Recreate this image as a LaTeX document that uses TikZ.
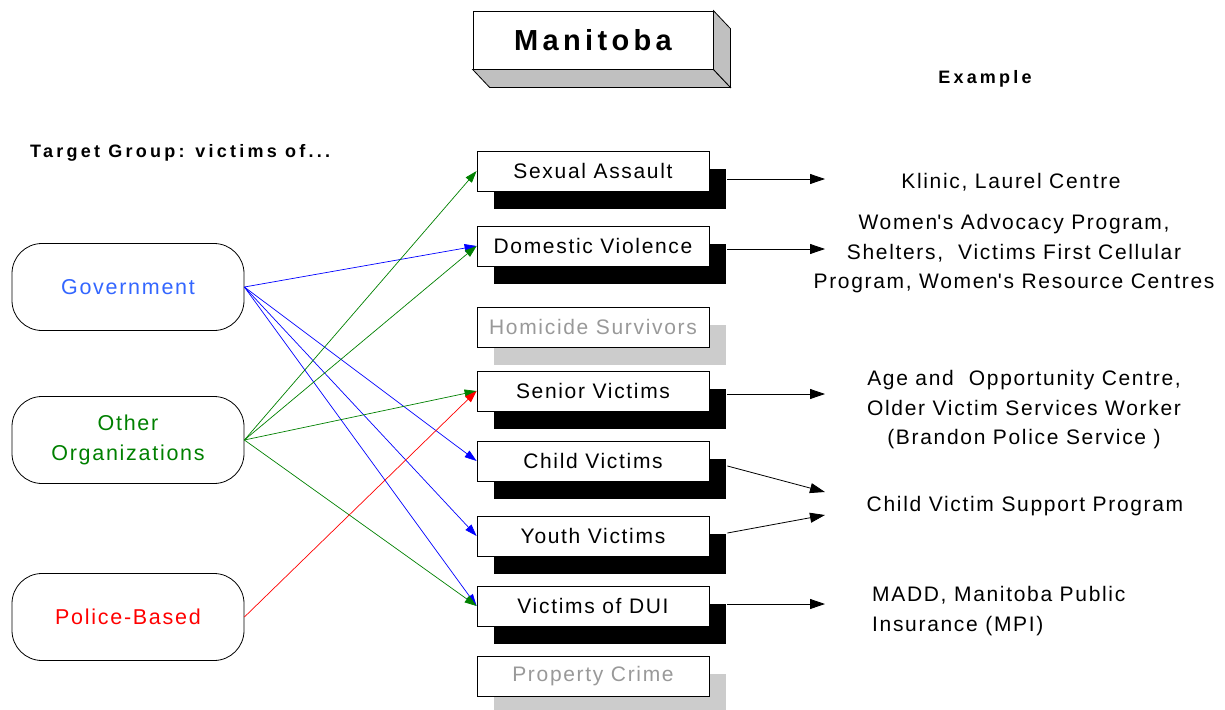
\documentclass[tikz,border=0pt]{standalone}
\usepackage{fontspec}
\setmainfont{Liberation Sans}[LetterSpace=8]
\newfontfamily\headfont{Liberation Sans}[LetterSpace=18]
\newfontfamily\titlefont{Liberation Sans}[LetterSpace=15]
\usetikzlibrary{arrows.meta,shadows,calc}
\definecolor{govblue}{RGB}{51,102,255}
\definecolor{orggreen}{RGB}{0,128,0}
\definecolor{shadegray}{RGB}{204,204,204}
\definecolor{facegray}{RGB}{192,192,192}
\definecolor{fadetext}{RGB}{153,153,153}
% straight apostrophe, taken by glyph name so no text mapping curls it
\newcommand{\apos}{\XeTeXglyph\XeTeXglyphindex "quotesingle"\relax\kern1.7pt}
\tikzset{
  catbox/.style={draw, line width=0.8pt, fill=white, minimum width=232pt,
    minimum height=40pt, inner sep=0pt, font=\fontsize{21}{24}\selectfont},
  solidshadow/.style={drop shadow={shadow xshift=17pt, shadow yshift=-18pt,
    fill=black, opacity=1}},
  paleshadow/.style={drop shadow={shadow xshift=17pt, shadow yshift=-18pt,
    fill=shadegray, opacity=1}, text=fadetext},
  grpbox/.style={draw, line width=0.8pt, rounded corners=30pt, minimum width=232pt,
    minimum height=87pt, align=center, font=\fontsize{21.5}{30}\selectfont},
  link/.style={line width=0.7pt, -{Triangle[length=12pt,width=8pt]}},
  exarrow/.style={line width=0.8pt, -{Triangle[length=15pt,width=10pt]}},
  extext/.style={align=center, inner sep=0pt, font=\fontsize{21}{29.5}\selectfont},
  headtext/.style={inner sep=0pt, font=\headfont\fontsize{18}{20}\selectfont\bfseries},
}
\begin{document}
\begin{tikzpicture}[x=1pt,y=-1pt]
\useasboundingbox (0,0) rectangle (1225,709);

% title block with raised faces
\node[draw, line width=0.8pt, fill=white, minimum width=240pt, minimum height=58pt,
  inner sep=0pt, font=\titlefont\fontsize{29}{34}\selectfont\bfseries] (title) at (593,40) {Manitoba};
\filldraw[fill=facegray, line width=0.8pt] (title.south west) -- ($(title.south west)+(17,18)$)
  -- ($(title.south east)+(17,18)$) -- (title.south east) -- cycle;
\filldraw[fill=facegray, line width=0.8pt] (title.north east) -- ($(title.north east)+(17,18)$)
  -- ($(title.south east)+(17,18)$) -- (title.south east) -- cycle;

% headings
\node[headtext, anchor=west] (tg) at (30,153) {Target Group: victims of...};
\node[headtext] (ex) at (985,79) {Example};

% victim categories
\node[catbox, solidshadow] (sa) at (593,171) {Sexual Assault};
\node[catbox, solidshadow] (dv) at (593,246) {Domestic Violence};
\node[catbox, paleshadow] (hs) at (593,327) {Homicide Survivors};
\node[catbox, solidshadow] (sv) at (593,391) {Senior Victims};
\node[catbox, solidshadow] (cv) at (593,461) {Child Victims};
\node[catbox, solidshadow] (yv) at (593,536) {Youth Victims};
\node[catbox, solidshadow] (dui) at (593,606) {Victims of DUI};
\node[catbox, paleshadow] (pc) at (593,676) {Property Crime};

% service providers
\node[grpbox, text=govblue] (gov) at (128,287) {Government};
\node[grpbox, text=orggreen] (org) at (128,440) {Other\\Organizations};
\node[grpbox, text=red] (pol) at (128,617) {Police-Based};

% example programs
\node[extext] (exsa) at (1011,182) {Klinic, Laurel Centre};
\node[extext] (exdv) at (1014,254) {Women\apos s Advocacy Program,\\Shelters,\ \ Victims First Cellular\\Program, Women\apos s Resource Centres};
\node[extext] (exsv) at (1024,410) {Age and\ \ Opportunity Centre,\\Older Victim Services Worker\\(Brandon Police Service )};
\node[extext] (excv) at (1025,506) {Child Victim Support Program};
\node[extext, align=left, anchor=west] (exdui) at (872,611) {MADD, Manitoba Public\\Insurance (MPI)};

% arrow end points beside the examples
\coordinate (tsa) at (825,179);
\coordinate (tdv) at (825,249);
\coordinate (tsv) at (825,394);
\coordinate (tcv) at (825,492);
\coordinate (tyv) at (825,515);
\coordinate (tdui) at (825,604);

% government links
\draw[link, blue] (gov.east) -- (dv.west);
\draw[link, blue] (gov.east) -- (cv.west);
\draw[link, blue] (gov.east) -- (yv.west);
\draw[link, blue] (gov.east) -- (dui.west);
% other organizations links
\draw[link, orggreen] (org.east) -- (sa.west);
\draw[link, orggreen] (org.east) -- (dv.west);
\draw[link, orggreen] (org.east) -- (sv.west);
\draw[link, orggreen] (org.east) -- (dui.west);
% police link
\draw[link, red] (pol.east) -- (sv.west);

% category to example arrows
\draw[exarrow] ($(sa.east)+(18,8)$) -- (tsa);
\draw[exarrow] ($(dv.east)+(18,3)$) -- (tdv);
\draw[exarrow] ($(sv.east)+(18,3)$) -- (tsv);
\draw[exarrow] ($(cv.east)+(18,5)$) -- (tcv);
\draw[exarrow] ($(yv.east)+(18,-3)$) -- (tyv);
\draw[exarrow] ($(dui.east)+(18,-2)$) -- (tdui);
\end{tikzpicture}
\end{document}
